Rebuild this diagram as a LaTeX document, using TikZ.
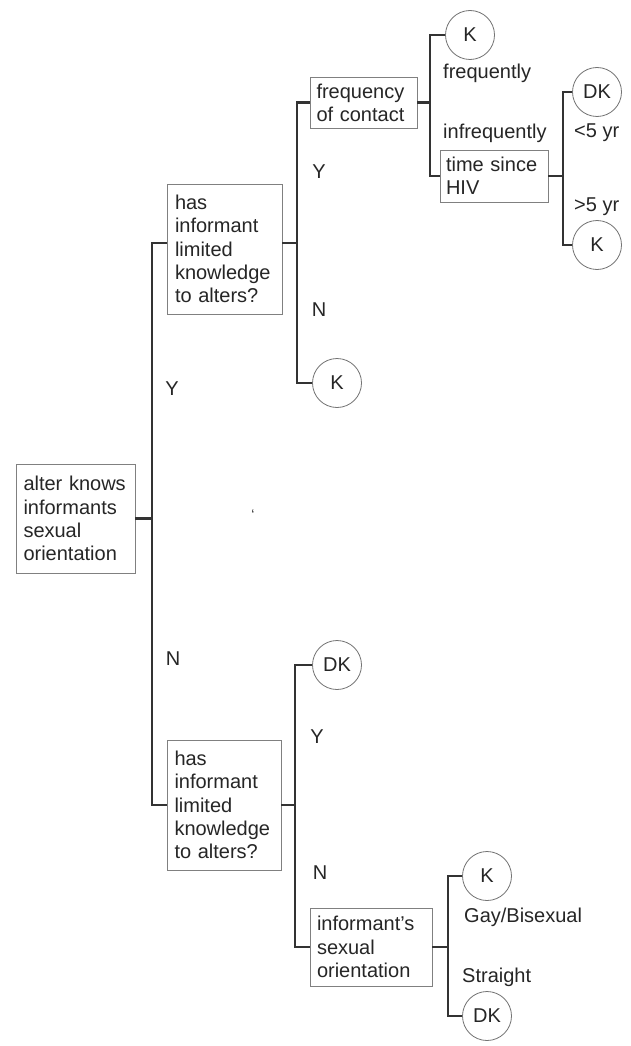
\documentclass[tikz,border=0pt]{standalone}
\usepackage{fontspec}
\setmainfont{Liberation Sans}
\begin{document}
\begin{tikzpicture}[x=1pt,y=-1pt,
  every node/.style={font=\fontsize{20}{23.2}\selectfont, text=black!85},
  box/.style={draw=black!50, line width=0.9pt, rectangle, inner sep=0pt, align=left},
  leaf/.style={draw=black!55, line width=0.8pt, circle, inner sep=0pt, minimum size=49pt},
  conn/.style={draw=black!80, line width=2.2pt},
  lab/.style={anchor=west, inner sep=0pt},
  blab/.style={inner sep=0pt}]
\useasboundingbox[fill=white] (0,0) rectangle (630,1046);

% boxes
\node[box, minimum width=119pt, minimum height=109pt, text width=104pt] (root) at (75.5,518.5)
  {alter knows\\informants\\sexual\\orientation};
\node[box, minimum width=115pt, minimum height=130pt, text width=99pt] (q1) at (224.5,249)
  {has\\informant\\limited\\knowledge\\to alters?};
\node[box, minimum width=114pt, minimum height=130pt, text width=99pt] (q2) at (224,805)
  {has\\informant\\limited\\knowledge\\to alters?};
\node[box, minimum width=107pt, minimum height=51pt, text width=94pt] (freq) at (363.5,102.5)
  {frequency\\of contact};
\node[box, minimum width=108pt, minimum height=52pt, text width=96pt] (time) at (494,176)
  {time since\\HIV};
\node[box, minimum width=122pt, minimum height=78pt, text width=108pt] (inf) at (371,947)
  {informant’s\\sexual\\orientation};

% leaves
\node[leaf] (kA) at (337,383) {K};
\node[leaf] (kB) at (470,35) {K};
\node[leaf] (dkC) at (597,92) {DK};
\node[leaf] (kD) at (597,245) {K};
\node[leaf] (dkE) at (337,665) {DK};
\node[leaf] (kF) at (487,876) {K};
\node[leaf] (dkG) at (487,1016) {DK};

% junction coordinates
\coordinate (a1) at (152,243);
\coordinate (a2) at (152,805);
\coordinate (b) at (297,243);
\coordinate (c) at (430,0);
\coordinate (d) at (563,0);
\coordinate (e) at (295,805);
\coordinate (f) at (448,0);

% connectors
\draw[conn] (root.east) -- (root.east -| a1);
\draw[conn] (q1.west |- a1) -- (a1) -- (a2) -- (q2.west |- a2);
\draw[conn] (q1.east |- b) -- (b);
\draw[conn] (freq.west) -- (freq.west -| b) -- (kA.west -| b) -- (kA.west);
\draw[conn] (freq.east) -- (freq.east -| c);
\draw[conn] (kB.west) -- (kB.west -| c) -- (time.west -| c) -- (time.west);
\draw[conn] (time.east) -- (time.east -| d);
\draw[conn] (dkC.west) -- (dkC.west -| d) -- (kD.west -| d) -- (kD.west);
\draw[conn] (q2.east) -- (e);
\draw[conn] (dkE.west) -- (dkE.west -| e) -- (inf.west -| e) -- (inf.west);
\draw[conn] (inf.east) -- (inf.east -| f);
\draw[conn] (kF.west) -- (kF.west -| f) -- (dkG.west -| f) -- (dkG.west);

% labels
\node[blab] (lY0) at (172,389) {Y};
\node[blab] (lN0) at (173,659) {N};
\node[blab] (lY1) at (319,172) {Y};
\node[blab] (lN1) at (319,310) {N};
\node[blab] (lY2) at (317,737) {Y};
\node[blab] (lN2) at (320,873) {N};
\node[lab] (lfr) at (443,73) {frequently};
\node[lab] (linf) at (443,133) {infrequently};
\node[lab] (llt) at (574,133) {<5 yr};
\node[lab] (lgt) at (574,207) {>5 yr};
\node[lab] (lgay) at (464,917) {Gay/Bisexual};
\node[lab] (lstr) at (462,977) {Straight};
\node[blab, font=\fontsize{14}{15}\selectfont] (mark) at (253,515) {‘};
\end{tikzpicture}
\end{document}
